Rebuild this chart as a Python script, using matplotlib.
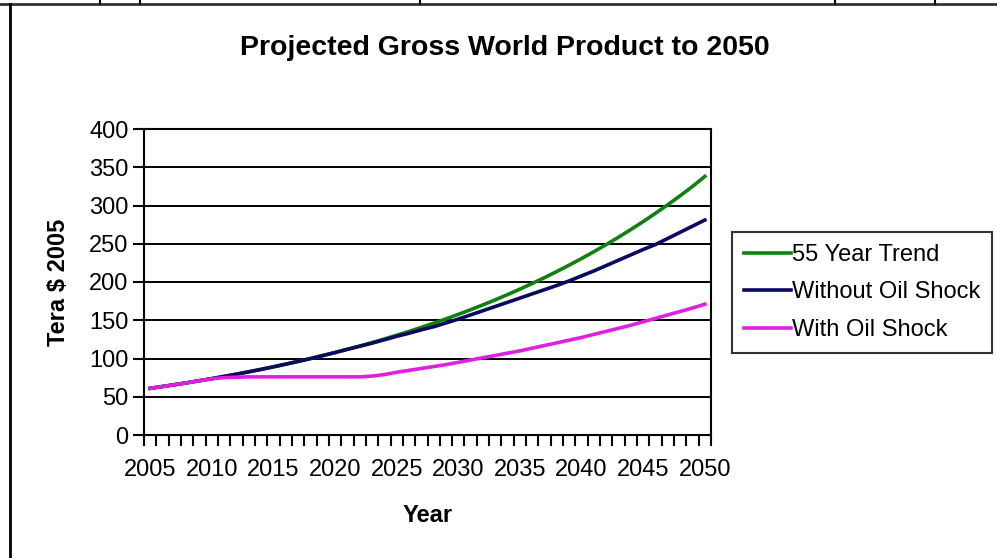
import matplotlib.pyplot as plt
from matplotlib.lines import Line2D
from matplotlib.ticker import FixedLocator

# Projected gross world product, tera $ (2005 dollars)
years = list(range(2005, 2051))

trend_55yr = [61, 63.4, 65.8, 68.3, 71.0, 73.7, 76.6, 79.5, 82.6, 85.8,
              89.1, 92.6, 96.2, 99.9, 103.8, 107.8, 112.0, 116.3, 120.8, 125.5,
              130.4, 135.4, 140.7, 146.1, 151.8, 157.7, 163.8, 170.1, 176.7, 183.6,
              190.7, 198.1, 205.8, 213.8, 222.1, 230.7, 239.6, 248.9, 258.6, 268.6,
              279.0, 289.9, 301.1, 312.8, 324.9, 338.0]

no_shock = [61, 63.4, 65.8, 68.3, 71.0, 73.7, 76.6, 79.5, 82.6, 85.8,
            89.1, 92.6, 96.2, 99.9, 103.8, 107.8, 112.0, 116.0, 120.0, 124.5,
            129.0, 133.0, 137.5, 141.5, 146.5, 151.5, 157.0, 162.5, 168.0, 173.5,
            179.0, 184.5, 190.0, 195.5, 201.5, 208.0, 214.5, 221.5, 228.5, 235.5,
            242.5, 249.0, 257.0, 265.0, 273.0, 281.0]

with_shock = [61, 63.4, 65.8, 68.3, 71.0, 73.5, 75.0, 75.5, 76.0, 76.0,
              76.0, 76.0, 76.0, 76.0, 76.0, 76.0, 76.0, 76.0, 77.0, 79.0,
              82.0, 84.5, 87.0, 89.5, 92.0, 95.0, 98.0, 101.0, 104.0, 107.0,
              110.0, 113.5, 117.0, 120.5, 124.0, 127.5, 131.5, 135.5, 139.5, 143.5,
              148.0, 152.5, 157.0, 161.5, 166.0, 171.0]

series_names = ['55 Year Trend', 'Without Oil Shock', 'With Oil Shock']
year_labels = [2005, 2010, 2015, 2020, 2025, 2030, 2035, 2040, 2045, 2050]
y_ticks = [0, 50, 100, 150, 200, 250, 300, 350, 400]

plt.rcParams['font.family'] = ['Liberation Sans', 'DejaVu Sans']

W, H = 997, 558
fig = plt.figure(figsize=(W / 100, H / 100), dpi=100)
ax = fig.add_axes([144 / W, 1 - 435 / H, (711 - 144) / W, (435 - 129) / H])

ax.plot(years, trend_55yr, color='#108010', lw=2.6, label=series_names[0])
ax.plot(years, no_shock, color='#0a0a60', lw=2.6, label=series_names[1])
ax.plot(years, with_shock, color='#e020e0', lw=2.6, label=series_names[2])

ax.set_xlim(2004.5, 2050.5)
ax.set_ylim(0, 400)
ax.set_yticks(y_ticks)
ax.set_xticks(year_labels)
ax.set_xticklabels([str(y) for y in year_labels])
ax.xaxis.set_minor_locator(FixedLocator([2004.5 + k for k in range(47)]))
ax.tick_params(axis='x', which='major', length=0, pad=17.5, labelsize=17)
ax.tick_params(axis='x', which='minor', length=8, width=1.5, direction='out')
ax.tick_params(axis='y', length=8, width=1.5, direction='out', pad=3, labelsize=17)

ax.grid(axis='y', color='black', lw=1.4)
ax.set_axisbelow(True)
for side in ['left', 'bottom', 'right', 'top']:
    ax.spines[side].set_linewidth(1.5)

ax.set_xlabel('Year', fontsize=17, fontweight='bold', labelpad=16)
ax.set_ylabel('Tera $ 2005', fontsize=17, fontweight='bold', labelpad=14)

fig.text(505 / W, 1 - 48 / H, 'Projected Gross World Product to 2050',
         ha='center', va='center', fontsize=20.5, fontweight='bold')

leg = fig.legend(loc='upper left', bbox_to_anchor=(732 / W, 1 - 232 / H),
                 frameon=True, fancybox=False, fontsize=17,
                 handlelength=2.0, handletextpad=0.05, labelspacing=0.66,
                 borderpad=0.5, borderaxespad=0)
leg.get_frame().set_edgecolor('black')
leg.get_frame().set_linewidth(1.5)

# chart border and the sheet edge above it
fig.add_artist(Line2D([0, 1], [1 - 4 / H, 1 - 4 / H], color='#333333', lw=2))
fig.add_artist(Line2D([9.5 / W, 9.5 / W], [0, 1 - 4 / H], color='black', lw=2))
for xp in [100, 140, 420, 835, 935]:
    fig.add_artist(Line2D([xp / W, xp / W], [1, 1 - 4 / H], color='black', lw=1.5))

fig.savefig('out.png', dpi=100)
